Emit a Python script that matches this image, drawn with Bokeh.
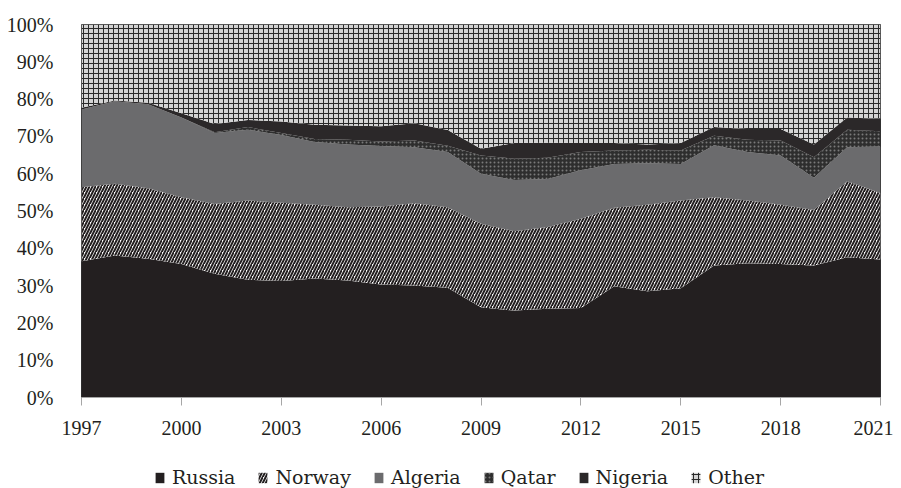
from bokeh.plotting import figure
from bokeh.layouts import column
from bokeh.models import ColumnDataSource, FixedTicker, Legend, LegendItem, Range1d
from bokeh.transform import stack
from bokeh.embed import file_html
from bokeh.resources import INLINE

years = list(range(1997, 2022))
russia  = [36.5, 38.1, 37.2, 35.8, 33.2, 31.6, 31.2, 31.9, 31.4, 30.3, 30.0, 29.4, 24.2,
           23.3, 23.8, 24.0, 29.8, 28.5, 29.3, 35.4, 36.0, 35.8, 35.4, 37.6, 37.0]
norway  = [19.9, 19.2, 18.9, 17.9, 18.7, 21.2, 21.0, 19.8, 19.6, 20.9, 22.1, 21.6, 22.4,
           21.3, 21.9, 23.9, 21.1, 23.2, 23.5, 18.3, 16.8, 15.9, 14.9, 20.4, 17.8]
algeria = [20.8, 22.1, 22.5, 21.4, 19.0, 19.0, 18.2, 16.8, 16.8, 16.2, 15.0, 14.8, 13.4,
           13.7, 12.9, 13.0, 11.7, 11.1, 9.8, 13.9, 13.0, 13.2, 8.6, 9.1, 12.5]
qatar   = [0.0, 0.0, 0.0, 0.0, 0.2, 0.7, 0.5, 0.8, 1.3, 1.2, 1.8, 1.7, 4.9,
           5.7, 5.7, 4.9, 3.6, 3.6, 3.6, 2.6, 3.3, 4.0, 5.5, 4.7, 4.1]
nigeria = [0.5, 0.2, 0.4, 1.1, 2.2, 1.9, 3.1, 3.8, 3.8, 4.1, 4.6, 4.2, 1.8,
           4.2, 4.0, 2.4, 2.0, 1.4, 2.0, 2.3, 2.9, 3.1, 3.4, 3.3, 3.3]
other   = [22.3, 20.4, 21.0, 23.8, 26.7, 25.6, 26.0, 26.9, 27.1, 27.3, 26.5, 28.3, 33.3,
           31.8, 31.7, 31.8, 31.8, 32.2, 31.8, 27.5, 28.0, 28.0, 32.2, 24.9, 25.3]

series_names = ["Russia", "Norway", "Algeria", "Qatar", "Nigeria", "Other"]
x_ticks = [1997, 2000, 2003, 2006, 2009, 2012, 2015, 2018, 2021]
y_ticks = [0, 10, 20, 30, 40, 50, 60, 70, 80, 90, 100]

source = ColumnDataSource(dict(year=years, Russia=russia, Norway=norway, Algeria=algeria,
                               Qatar=qatar, Nigeria=nigeria, Other=other))

styles = {
    "Russia":  dict(fill_color="#231f20"),
    "Norway":  dict(fill_color="white", hatch_pattern="/", hatch_color="#231f20",
                    hatch_scale=6, hatch_weight=2),
    "Algeria": dict(fill_color="#6b6b6d"),
    "Qatar":   dict(fill_color="#2e2e2e", hatch_pattern="dot", hatch_color="#7a7a7a",
                    hatch_scale=4, hatch_weight=1),
    "Nigeria": dict(fill_color="#2b2829"),
    "Other":   dict(fill_color="#d4d4d4", hatch_pattern="+", hatch_color="#2a2a2a",
                    hatch_scale=5, hatch_weight=1),
}

# ---- main chart ----
p = figure(width=893, height=445, output_backend="svg", toolbar_location=None,
           x_range=Range1d(1997, 2021), y_range=Range1d(0, 100),
           min_border_left=81, min_border_right=13, min_border_top=24, min_border_bottom=48)

for i, name in enumerate(series_names):
    p.varea(x="year", y1=stack(*series_names[:i]), y2=stack(*series_names[:i + 1]),
            source=source, **styles[name])

p.xgrid.visible = False
p.ygrid.visible = False
p.outline_line_color = "#333333"
p.outline_line_width = 1
p.background_fill_color = "white"

p.xaxis.ticker = FixedTicker(ticks=x_ticks)
p.xaxis.axis_line_color = "#a6a6a6"
p.xaxis.major_tick_line_color = "#a6a6a6"
p.xaxis.major_tick_in = 0
p.xaxis.major_tick_out = 8
p.xaxis.minor_tick_line_color = None
p.xaxis.major_label_standoff = 15
p.xaxis.major_label_text_font = "Liberation Serif"
p.xaxis.major_label_text_font_size = "20px"
p.xaxis.major_label_text_color = "#231f20"

p.yaxis.ticker = FixedTicker(ticks=y_ticks)
p.yaxis.major_label_overrides = {t: f"{t}%" for t in y_ticks}
p.yaxis.axis_line_color = None
p.yaxis.major_tick_line_color = None
p.yaxis.minor_tick_line_color = None
p.yaxis.major_label_standoff = 22
p.yaxis.major_label_text_font = "Liberation Serif"
p.yaxis.major_label_text_font_size = "20px"
p.yaxis.major_label_text_color = "#231f20"

# ---- legend strip (its own range keeps the helper areas out of view) ----
lf = figure(width=893, height=43, output_backend="svg", toolbar_location=None,
            x_range=Range1d(0, 1), y_range=Range1d(0, 1),
            x_axis_location=None, y_axis_location=None,
            min_border_left=0, min_border_right=0, min_border_top=0, min_border_bottom=0)
lf.xgrid.visible = False
lf.ygrid.visible = False
lf.outline_line_color = None

items = []
for i, name in enumerate(series_names):
    r = lf.varea(x="year", y1=stack(*series_names[:i]), y2=stack(*series_names[:i + 1]),
                 source=source, **styles[name])
    items.append(LegendItem(label=name, renderers=[r]))

legend = Legend(items=items, orientation="horizontal", location=(73, 0),
                label_text_font="DejaVu Serif", label_text_font_size="19px",
                label_text_color="#231f20", glyph_width=11, glyph_height=13,
                label_standoff=7, spacing=22, padding=0, margin=0,
                border_line_color=None, background_fill_alpha=0)
lf.add_layout(legend, "center")

open("out.html", "w").write(file_html(column(p, lf, spacing=0), INLINE))
